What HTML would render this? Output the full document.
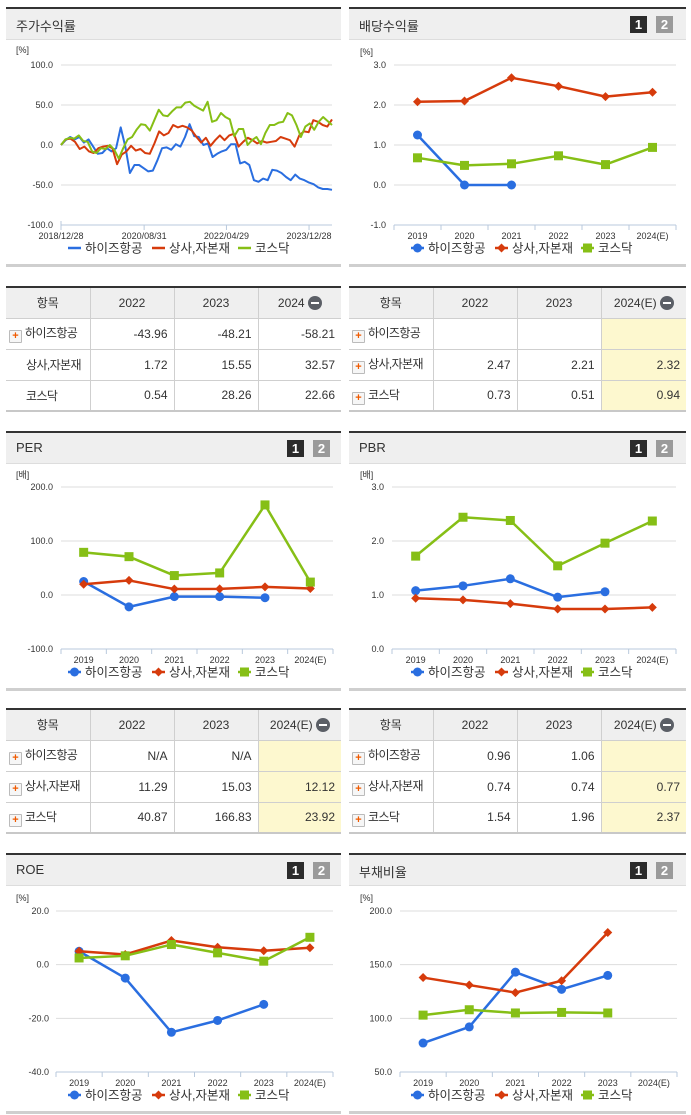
<!DOCTYPE html>
<html><head><meta charset="utf-8">
<style>
body{margin:0;width:691px;height:1115px;background:#fff;font-family:"Liberation Sans","Noto Sans CJK KR",sans-serif;position:relative;overflow:hidden;color:#333}
.hdr{position:absolute;height:30px;background:#efefef;border-top:2px solid #333;border-bottom:1px solid #ddd;box-sizing:content-box}
.hdr .t{position:absolute;left:10px;top:7px;font-size:13px;color:#333}
.btn{position:absolute;top:7px;width:17px;height:17px;font-size:13px;font-weight:bold;color:#fff;text-align:center;line-height:17px}
.b1{background:#2b2b2b}.b2{background:#9a9a9a}
.foot{position:absolute;height:3px;background:#cfcfcf}
table{position:absolute;border-collapse:collapse;table-layout:fixed;font-size:12px;border-top:2px solid #333;border-bottom:2px solid #c8c8c8}
tr{height:31px}
td,th{border:1px solid #cfcfcf;height:31px;padding:0 6px;box-sizing:border-box;white-space:nowrap;overflow:hidden}
tr td:first-child,tr th:first-child{border-left:none}
tr td:last-child,tr th:last-child{border-right:none}
th{background:#efefef;font-weight:normal;text-align:center;color:#333}
td{text-align:right;color:#333}
td.l{text-align:left;padding-left:3px;padding-right:0;letter-spacing:-0.6px}
td.y{background:#fdf8cf}
.plus{display:inline-block;width:11px;height:11px;border:1px solid #bbb;background:#f6f6f6;color:#f05a00;font-size:11px;line-height:11px;text-align:center;font-weight:bold;vertical-align:-2px;margin-right:3px;border-radius:1px;letter-spacing:0}
.minus{display:inline-block;width:14px;height:14px;border-radius:7px;background:#5b5f66;vertical-align:-3px;position:relative;margin-left:3px}
.minus:after{content:"";position:absolute;left:3px;top:6px;width:8px;height:2px;background:#fff}
svg{position:absolute;left:0;top:0}
</style></head><body>

<div class="hdr" style="left:6px;top:7px;width:335px"><span class="t">주가수익률</span></div>
<div class="hdr" style="left:349px;top:7px;width:337px"><span class="t">배당수익률</span><span class="btn b1" style="left:281px">1</span><span class="btn b2" style="left:307px">2</span></div>
<div class="hdr" style="left:6px;top:431px;width:335px"><span class="t">PER</span><span class="btn b1" style="left:281px">1</span><span class="btn b2" style="left:307px">2</span></div>
<div class="hdr" style="left:349px;top:431px;width:337px"><span class="t">PBR</span><span class="btn b1" style="left:281px">1</span><span class="btn b2" style="left:307px">2</span></div>
<div class="hdr" style="left:6px;top:853px;width:335px"><span class="t">ROE</span><span class="btn b1" style="left:281px">1</span><span class="btn b2" style="left:307px">2</span></div>
<div class="hdr" style="left:349px;top:853px;width:337px"><span class="t">부채비율</span><span class="btn b1" style="left:281px">1</span><span class="btn b2" style="left:307px">2</span></div>

<div class="foot" style="left:6px;top:264px;width:335px"></div>
<div class="foot" style="left:349px;top:264px;width:337px"></div>
<div class="foot" style="left:6px;top:688px;width:335px"></div>
<div class="foot" style="left:349px;top:688px;width:337px"></div>
<div class="foot" style="left:6px;top:1111px;width:335px"></div>
<div class="foot" style="left:349px;top:1111px;width:337px"></div>

<table style="left:6px;top:286px;width:335px">
<colgroup><col style="width:84px"><col style="width:84px"><col style="width:84px"><col style="width:83px"></colgroup>
<tr><th>항목</th><th>2022</th><th>2023</th><th>2024<span class="minus"></span></th></tr>
<tr><td class="l"><span class="plus">+</span>하이즈항공</td><td>-43.96</td><td>-48.21</td><td>-58.21</td></tr>
<tr><td class="l" style="padding-left:20px">상사,자본재</td><td>1.72</td><td>15.55</td><td>32.57</td></tr>
<tr><td class="l" style="padding-left:20px">코스닥</td><td>0.54</td><td>28.26</td><td>22.66</td></tr>
</table>
<table style="left:349px;top:286px;width:337px">
<colgroup><col style="width:84px"><col style="width:84px"><col style="width:84px"><col style="width:85px"></colgroup>
<tr><th>항목</th><th>2022</th><th>2023</th><th>2024(E)<span class="minus"></span></th></tr>
<tr><td class="l"><span class="plus">+</span>하이즈항공</td><td></td><td></td><td class="y"></td></tr>
<tr><td class="l"><span class="plus">+</span>상사,자본재</td><td>2.47</td><td>2.21</td><td class="y">2.32</td></tr>
<tr><td class="l"><span class="plus">+</span>코스닥</td><td>0.73</td><td>0.51</td><td class="y">0.94</td></tr>
</table>
<table style="left:6px;top:708px;width:335px">
<colgroup><col style="width:84px"><col style="width:84px"><col style="width:84px"><col style="width:83px"></colgroup>
<tr><th>항목</th><th>2022</th><th>2023</th><th>2024(E)<span class="minus"></span></th></tr>
<tr><td class="l"><span class="plus">+</span>하이즈항공</td><td>N/A</td><td>N/A</td><td class="y"></td></tr>
<tr><td class="l"><span class="plus">+</span>상사,자본재</td><td>11.29</td><td>15.03</td><td class="y">12.12</td></tr>
<tr><td class="l"><span class="plus">+</span>코스닥</td><td>40.87</td><td>166.83</td><td class="y">23.92</td></tr>
</table>
<table style="left:349px;top:708px;width:337px">
<colgroup><col style="width:84px"><col style="width:84px"><col style="width:84px"><col style="width:85px"></colgroup>
<tr><th>항목</th><th>2022</th><th>2023</th><th>2024(E)<span class="minus"></span></th></tr>
<tr><td class="l"><span class="plus">+</span>하이즈항공</td><td>0.96</td><td>1.06</td><td class="y"></td></tr>
<tr><td class="l"><span class="plus">+</span>상사,자본재</td><td>0.74</td><td>0.74</td><td class="y">0.77</td></tr>
<tr><td class="l"><span class="plus">+</span>코스닥</td><td>1.54</td><td>1.96</td><td class="y">2.37</td></tr>
</table>

<svg id="charts" width="691" height="1115" xmlns="http://www.w3.org/2000/svg"></svg>

<script>
const seriesNames = ["하이즈항공", "상사,자본재", "코스닥"];
const stockStart = "2018-12-28";
const stockEnd = "2024-06-14";
const stockTickDates = ["2018-12-28", "2020-08-31", "2022-04-29", "2023-12-28"];
const stockTickLabels = ["2018/12/28", "2020/08/31", "2022/04/29", "2023/12/28"];
const stockYTicks = [100, 50, 0, -50, -100];
const stockHize = [0,6,10,7,10,3,7,-2,-11,-10,-4,-8,-4,22,-2,-35,-25,-25,-29,-33,-32,-19,-4,-3,-6,1,-2,10,26,11,10,0,2,-15,-11,-8,-6,1,1,-23,-21,-25,-44,-46,-42,-44,-31,-32,-35,-40,-44,-37,-42,-44,-47,-49,-53,-55,-55,-56];
const stockSector = [0,7,8,4,-5,-2,-8,-10,-4,-2,-1,-4,-24,-12,-8,-1,-7,-5,-10,-11,2,17,12,15,25,22,24,22,18,10,3,9,-1,6,12,6,12,14,-2,4,9,6,2,5,3,4,5,10,8,6,-2,12,17,16,31,29,25,23,32];
const stockKosdaq = [0,7,9,8,12,5,4,-8,-10,-4,-5,0,-6,-17,-4,7,10,19,26,25,18,31,44,37,36,42,47,47,53,54,49,46,43,54,29,31,40,35,32,11,20,20,0,6,10,1,15,25,25,28,29,40,37,25,10,23,27,19,29,35,30,25];

const years = ["2019", "2020", "2021", "2022", "2023", "2024(E)"];
const divHize = [1.25, 0.0, 0.0, null, null, null];
const divSector = [2.08, 2.10, 2.68, 2.47, 2.21, 2.32];
const divKosdaq = [0.68, 0.49, 0.53, 0.73, 0.51, 0.94];
const divTicks = [3, 2, 1, 0, -1];
const perHize = [25, -22, -3, -3, -5, null];
const perSector = [20, 27, 11, 11.29, 15.03, 12.12];
const perKosdaq = [79, 71, 36, 40.87, 166.83, 23.92];
const perTicks = [200, 100, 0, -100];
const pbrHize = [1.08, 1.17, 1.30, 0.96, 1.06, null];
const pbrSector = [0.94, 0.91, 0.84, 0.74, 0.74, 0.77];
const pbrKosdaq = [1.72, 2.44, 2.38, 1.54, 1.96, 2.37];
const pbrTicks = [3, 2, 1, 0];
const roeHize = [5, -5, -25.2, -20.8, -14.8, null];
const roeSector = [5, 3.8, 9, 6.5, 5.2, 6.3];
const roeKosdaq = [2.5, 3.3, 7.5, 4.4, 1.3, 10.2];
const roeTicks = [20, 0, -20, -40];
const debtHize = [77, 92, 143, 127, 140, null];
const debtSector = [138, 131, 124, 135, 180, null];
const debtKosdaq = [103, 108, 105, 105.5, 105, null];
const debtTicks = [200, 150, 100, 50];

const NS = "http://www.w3.org/2000/svg";
const svg = document.getElementById("charts");
const COLORS = ["#2a6ee0", "#d63b0c", "#86bf16"];
function mk(tag, attrs, parent) {
  const e = document.createElementNS(NS, tag);
  for (const k in attrs) e.setAttribute(k, attrs[k]);
  (parent || svg).appendChild(e);
  return e;
}
function txt(x, y, s, anchor, size, parent) {
  const t = mk("text", {x: x, y: y, "text-anchor": anchor, "font-size": size, fill: "#333", "font-family": "Liberation Sans, Noto Sans CJK KR, sans-serif"}, parent);
  t.textContent = s;
  return t;
}
function yAxis(g, G, ticks) {
  const yMax = ticks[0], yMin = ticks[ticks.length - 1];
  const ys = v => G.yTop + (yMax - v) / (yMax - yMin) * (G.yBot - G.yTop);
  ticks.forEach((v, i) => {
    const y = ys(v);
    if (i < ticks.length - 1) {
      const ln = mk("line", {x1: G.x0, x2: G.x1, y1: y, y2: y, stroke: "#ddd", "stroke-width": 1}, g);
      
      
    }
    const lb = txt(G.lx, y + 3, v.toFixed(1), "end", 9, g);
    
    
  });
  const ax = mk("line", {x1: G.x0, x2: G.x1, y1: G.yBot, y2: G.yBot, stroke: "#b9c9dc", "stroke-width": 1}, g);
  
  
  const u = txt(G.ux, G.uy, G.unit, "start", 9, g);
  
  
  return ys;
}
function marker(g, kind, x, y, color) {
  let m;
  if (kind === 0) m = mk("circle", {cx: x, cy: y, r: 4.5, fill: color}, g);
  else if (kind === 1) m = mk("path", {d: `M${x-4.5},${y}L${x},${y-4.5}L${x+4.5},${y}L${x},${y+4.5}Z`, fill: color}, g);
  else m = mk("rect", {x: x - 4.5, y: y - 4.5, width: 9, height: 9, fill: color}, g);
  return m;
}
function legend(g, G, withMarkers) {
  const offs = [0, 84, 170];
  seriesNames.forEach((n, i) => {
    const x = G.legX + offs[i];
    const l = mk("line", {x1: x, x2: x + 13, y1: G.legY, y2: G.legY, stroke: COLORS[i], "stroke-width": 2.5}, g);
    
    
    if (withMarkers) marker(g, i, x + 6.5, G.legY, COLORS[i]);
    const t = txt(x + 17, G.legY + 4.5, n, "start", 12.5, g);
    
    
  });
}
function catChart(name, G, ticks, data) {
  const g = mk("g", {});
  
  
  const ys = yAxis(g, G, ticks);
  const bw = (G.x1 - G.x0) / years.length;
  const xs = i => G.x0 + bw * (i + 0.5);
  for (let i = 0; i <= years.length; i++) {
    const x = G.x0 + bw * i;
    mk("line", {x1: x, x2: x, y1: G.yBot, y2: G.yBot + 5, stroke: "#b9c9dc"}, g);
  }
  years.forEach((yr, i) => {
    const t = txt(xs(i), G.yBot + 14, yr, "middle", 9, g);
    
    
  });
  data.forEach((arr, si) => {
    let segs = [], cur = [];
    arr.forEach((v, i) => {
      if (v === null) { if (cur.length) segs.push(cur); cur = []; }
      else cur.push([xs(i), ys(v)]);
    });
    if (cur.length) segs.push(cur);
    segs.forEach(s => {
      const p = mk("polyline", {points: s.map(q => q.join(",")).join(" "), fill: "none", stroke: COLORS[si], "stroke-width": 2.5, "stroke-linejoin": "round"}, g);
      
      
      s.forEach(q => {
        const m = marker(g, si, q[0], q[1], COLORS[si]);
        
        
      });
    });
  });
  legend(g, G, true);
}

(function () {
  const G = {x0: 61, x1: 332, yTop: 65, yBot: 225, lx: 53, ux: 16, uy: 53, unit: "[%]", legX: 68, legY: 248};
  const g = mk("g", {});
  
  
  const ys = yAxis(g, G, stockYTicks);
  const t0 = Date.parse(stockStart), t1 = Date.parse(stockEnd);
  const xd = d => G.x0 + (Date.parse(d) - t0) / (t1 - t0) * (G.x1 - G.x0);
  mk("line", {x1: G.x0, x2: G.x0, y1: G.yBot - 4, y2: G.yBot, stroke: "#b9c9dc"}, g);
  stockTickDates.forEach((d, i) => {
    const x = xd(d);
    mk("line", {x1: x, x2: x, y1: G.yBot, y2: G.yBot + 5, stroke: "#b9c9dc"}, g);
    const t = txt(x, G.yBot + 14, stockTickLabels[i], "middle", 9, g);
    
    
  });
  [stockHize, stockSector, stockKosdaq].forEach((arr, si) => {
    const pts = arr.map((v, i) => [G.x0 + i / (arr.length - 1) * (G.x1 - G.x0), ys(v)]);
    const p = mk("polyline", {points: pts.map(q => q.join(",")).join(" "), fill: "none", stroke: COLORS[si], "stroke-width": 2, "stroke-linejoin": "round"}, g);
    
    
  });
  legend(g, G, false);
})();

catChart("dividend-yield-chart", {x0: 394, x1: 676, yTop: 65, yBot: 225, lx: 386, ux: 360, uy: 55, unit: "[%]", legX: 411, legY: 248}, divTicks, [divHize, divSector, divKosdaq]);
catChart("per-chart", {x0: 61, x1: 333, yTop: 487, yBot: 649, lx: 53, ux: 16, uy: 478, unit: "[배]", legX: 68, legY: 672}, perTicks, [perHize, perSector, perKosdaq]);
catChart("pbr-chart", {x0: 392, x1: 676, yTop: 487, yBot: 649, lx: 384, ux: 360, uy: 478, unit: "[배]", legX: 411, legY: 672}, pbrTicks, [pbrHize, pbrSector, pbrKosdaq]);
catChart("roe-chart", {x0: 56, x1: 333, yTop: 911, yBot: 1072, lx: 49, ux: 16, uy: 901, unit: "[%]", legX: 68, legY: 1095}, roeTicks, [roeHize, roeSector, roeKosdaq]);
catChart("debt-ratio-chart", {x0: 400, x1: 677, yTop: 911, yBot: 1072, lx: 392, ux: 360, uy: 901, unit: "[%]", legX: 411, legY: 1095}, debtTicks, [debtHize, debtSector, debtKosdaq]);
</script>
</body></html>
